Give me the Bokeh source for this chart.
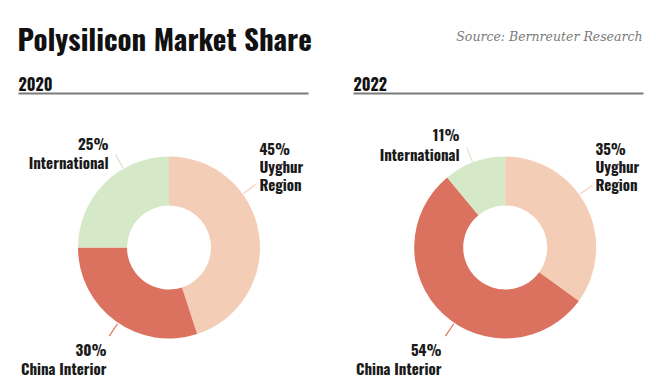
import numpy as np
from bokeh.plotting import figure
from bokeh.models import Range1d, ColumnDataSource
from bokeh.core.properties import value
from bokeh.embed import file_html
from bokeh.resources import INLINE

# ---- data ----
title = "Polysilicon Market Share"
source_note = "Source: Bernreuter Research"
years = ["2020", "2022"]
segments = ["Uyghur Region", "China Interior", "International"]
segment_lines = [["Uyghur", "Region"], ["China Interior"], ["International"]]
share_2020 = [45, 30, 25]
share_2022 = [35, 54, 11]
colors = ["#F4CDB7", "#DB7260", "#D5E8C7"]

shares = {"2020": share_2020, "2022": share_2022}

# ---- layout (page pixels) ----
CONDENSED = "Oswald"
centers = {"2020": (168.5, 247.0), "2022": (504.7, 247.0)}
R_OUT, R_IN = 91, 42
header_x = {"2020": (18, 308), "2022": (353, 643)}
leader_ang = {"2020": [36, -124, 120], "2022": [35.5, -124, 111]}
label_pos = {
    "2020": [(90.5, -100, "left"), (-62.5, 101, "right"), (-60.5, -105, "right")],
    "2022": [(90.3, -100, "left"), (-63.7, 101, "right"), (-45.7, -114, "right")],
}
line_gap = {"2020": [18, 19, 19], "2022": [18, 19, 20]}

W, H = 656, 382
p = figure(width=W, height=H, x_range=Range1d(0, W), y_range=Range1d(-H, 0),
           output_backend="svg", toolbar_location=None, min_border=0,
           x_axis_location=None, y_axis_location=None)
p.grid.visible = False
p.outline_line_color = None
p.background_fill_color = "white"

for yr in years:
    cx, cy = centers[yr]
    vals = np.array(shares[yr], dtype=float)
    cum = np.concatenate([[0], np.cumsum(vals)]) / vals.sum()
    start = np.deg2rad(90 - cum[:-1] * 360)
    end = np.deg2rad(90 - cum[1:] * 360)
    src = ColumnDataSource(dict(x=[cx] * 3, y=[-cy] * 3, s=start, e=end, c=colors))
    p.annular_wedge(x="x", y="y", inner_radius=R_IN, outer_radius=R_OUT,
                    start_angle="s", end_angle="e", direction="clock",
                    fill_color="c", line_color=None, source=src)
    ang = np.deg2rad(np.array(leader_ang[yr]))
    x0 = cx + 92 * np.cos(ang); y0 = -cy + 92 * np.sin(ang)
    x1 = cx + 107 * np.cos(ang); y1 = -cy + 107 * np.sin(ang)
    p.segment(x0=x0, y0=y0, x1=x1, y1=y1, line_color=colors, line_width=1.2)
    xs, ys, ts, al = [], [], [], []
    for i, seg in enumerate(segments):
        dx, dy, a = label_pos[yr][i]
        lines = [f"{shares[yr][i]}%"] + segment_lines[i]
        for k, t in enumerate(lines):
            xs.append(cx + dx)
            ys.append(-(cy + dy + k * line_gap[yr][i]))
            ts.append(t)
            al.append(a)
    p.text(x=xs, y=ys, text=ts, text_align=al, text_baseline="alphabetic",
           text_font=value(CONDENSED), text_font_style="bold", text_font_size="15px",
           text_color="#1a1a1a")
    hx0, hx1 = header_x[yr]
    p.text(x=[hx0], y=[-83], text=[yr], text_font=value(CONDENSED), text_font_style="bold",
           text_font_size="16px", text_baseline="alphabetic", text_color="#111111")
    p.segment(x0=[hx0], y0=[-93], x1=[hx1], y1=[-93], line_color="#7a7a7a", line_width=2.2)

p.text(x=[17], y=[-37], text=[title], text_font=value(CONDENSED), text_font_style="bold",
       text_font_size="29px", text_baseline="alphabetic", text_color="#111111")
p.text(x=[642], y=[-36], text=[source_note], text_font=value("DejaVu Serif"),
       text_font_style="italic", text_font_size="12.5px", text_align="right",
       text_baseline="alphabetic", text_color="#7a7a7a")

open("out.html", "w").write(file_html(p, INLINE))
